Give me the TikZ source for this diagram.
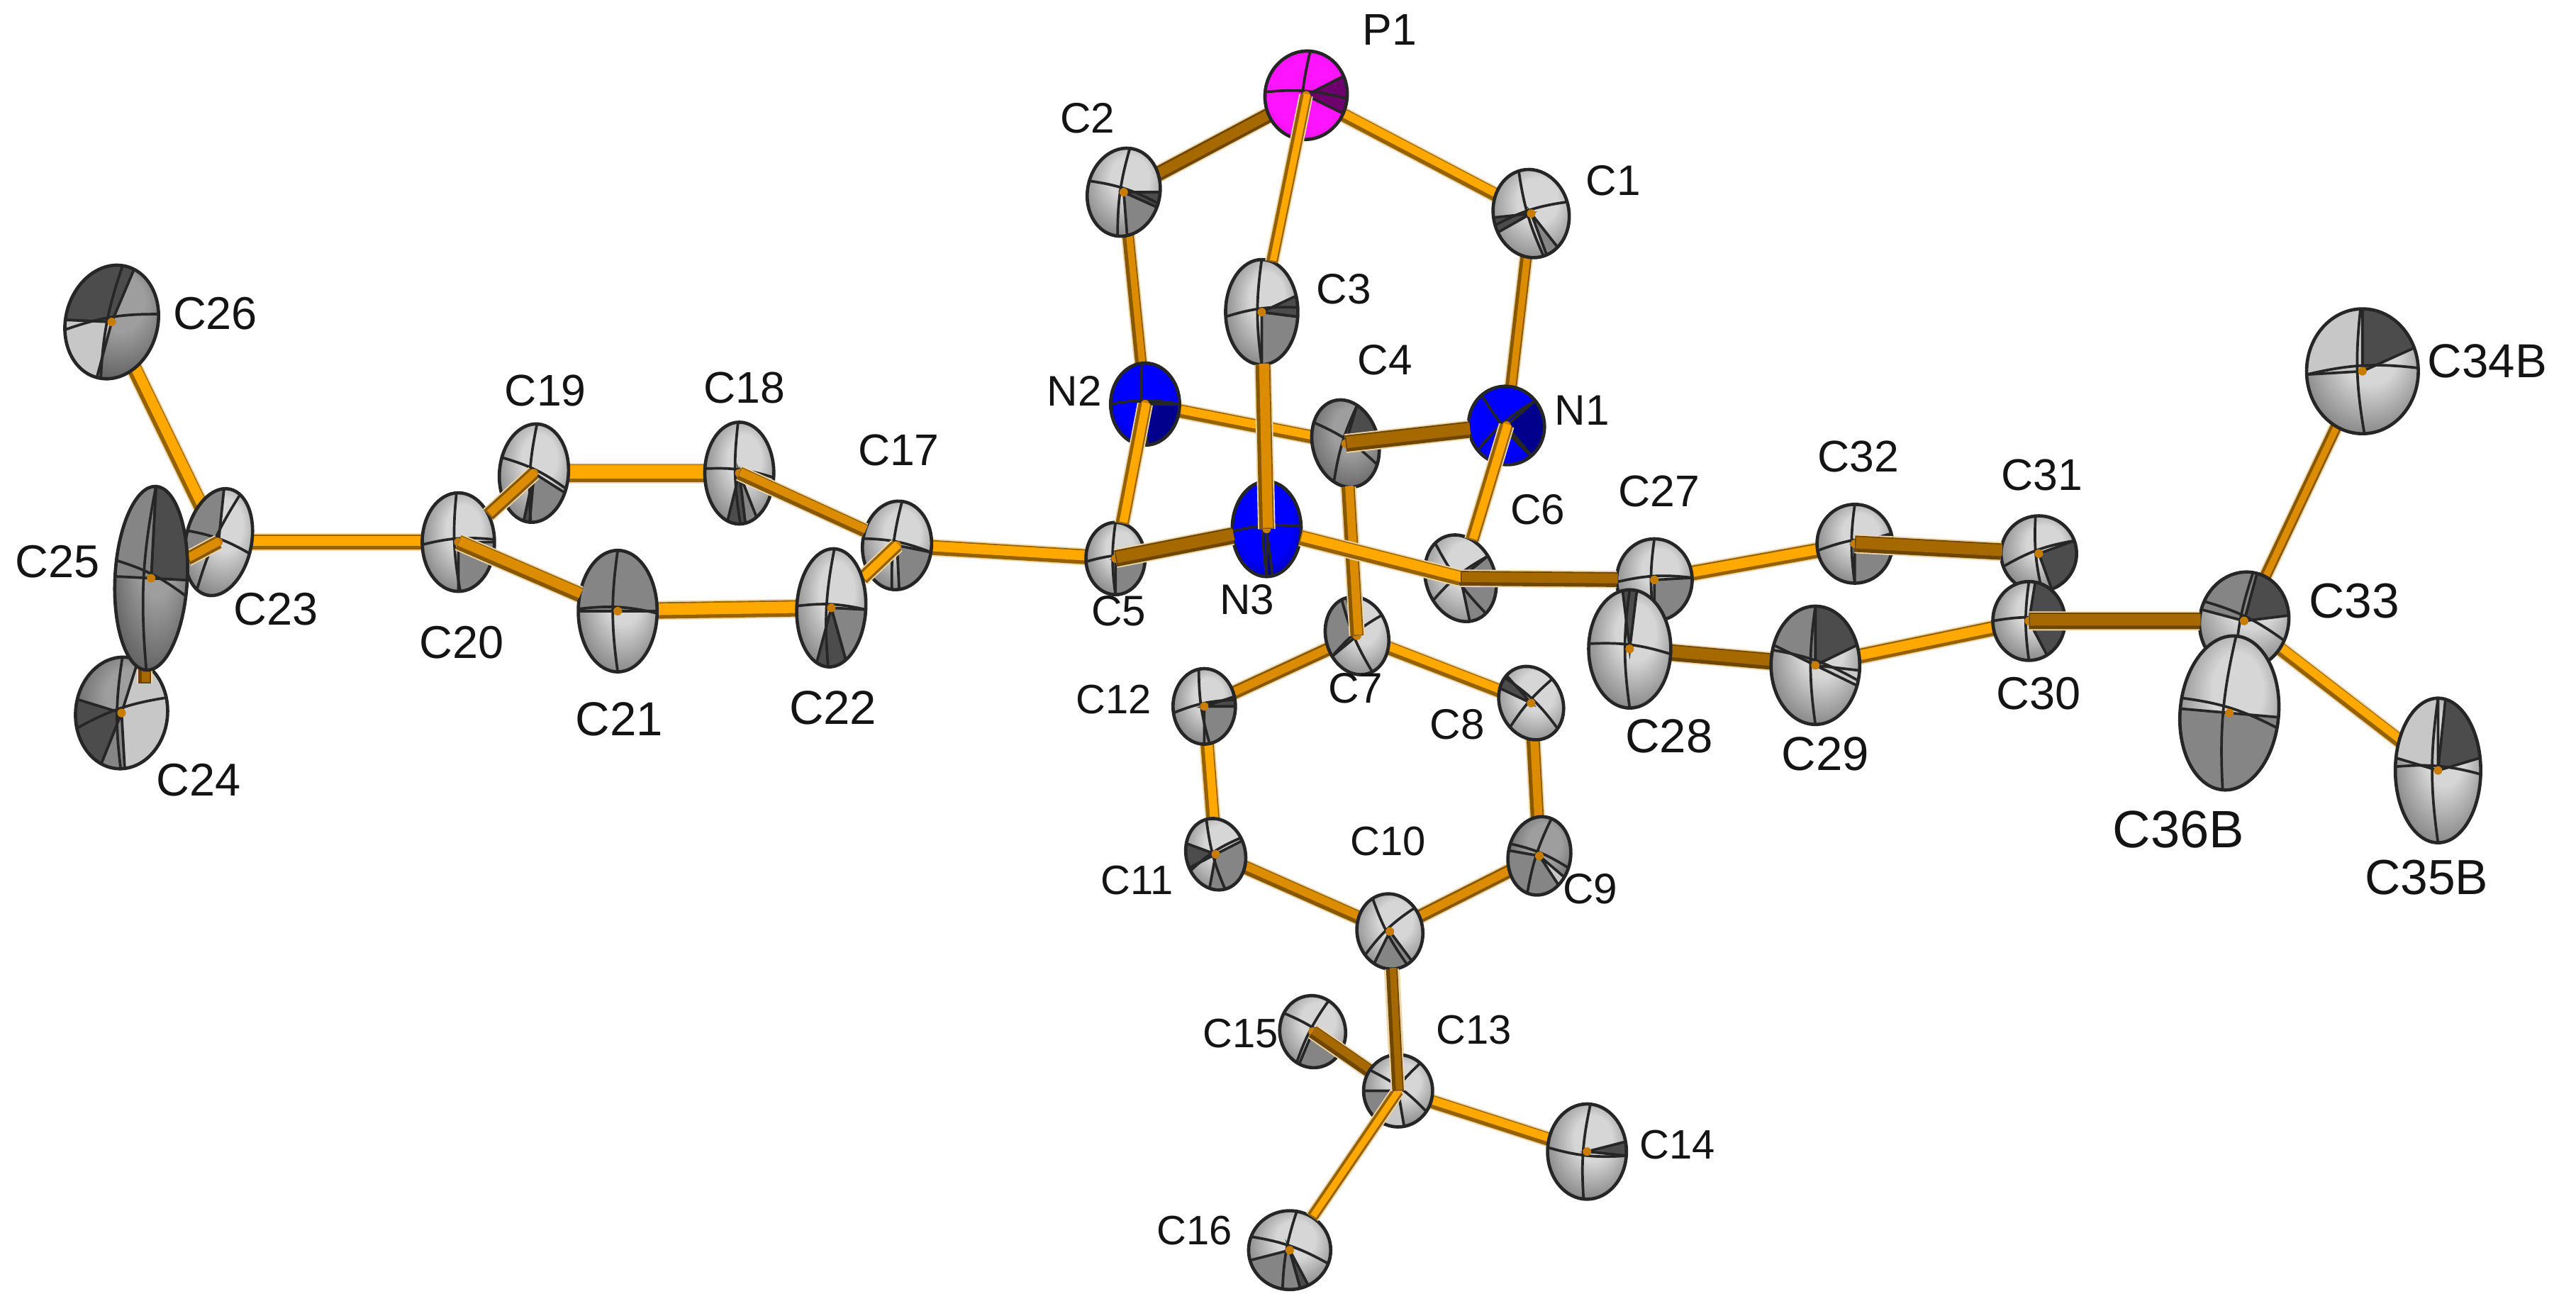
\documentclass[tikz,border=0pt]{standalone}
\usepackage{fontspec}
\setmainfont{Liberation Sans}
\usetikzlibrary{shapes.geometric,calc}
\pgfdeclarelayer{back}\pgfdeclarelayer{rear}\pgfdeclarelayer{mid}\pgfdeclarelayer{front}
\pgfsetlayers{back,rear,mid,main,front}
\definecolor{hig}{gray}{0.84}\definecolor{log}{gray}{0.38}
\definecolor{hid}{gray}{0.62}\definecolor{lod}{gray}{0.28}
\definecolor{hib}{RGB}{0,0,255}\definecolor{lob}{RGB}{0,0,110}
\definecolor{him}{RGB}{255,20,255}\definecolor{lom}{RGB}{150,0,150}
\definecolor{wl}{gray}{0.78}\definecolor{wg}{gray}{0.52}\definecolor{wd}{gray}{0.30}
\definecolor{wb}{RGB}{0,0,140}\definecolor{wm}{RGB}{110,0,110}
\definecolor{edge}{gray}{0.15}
\definecolor{bbl}{RGB}{150,98,0}\definecolor{btl}{RGB}{255,168,0}
\definecolor{bbm}{RGB}{135,88,0}\definecolor{btm}{RGB}{220,140,0}
\definecolor{bbd}{RGB}{110,70,0}\definecolor{btd}{RGB}{165,105,0}
\definecolor{halo}{RGB}{236,214,170}\definecolor{stub}{RGB}{200,125,0}
\pgfdeclareradialshading{atomg}{\pgfpoint{5bp}{9bp}}{color(0bp)=(hig);color(12bp)=(hig);color(38bp)=(log);color(50bp)=(log)}
\pgfdeclareradialshading{atomd}{\pgfpoint{5bp}{9bp}}{color(0bp)=(hid);color(12bp)=(hid);color(38bp)=(lod);color(50bp)=(lod)}
\pgfdeclareradialshading{atomb}{\pgfpoint{-3bp}{6bp}}{color(0bp)=(hib);color(20bp)=(hib);color(40bp)=(lob);color(50bp)=(lob)}
\pgfdeclareradialshading{atomm}{\pgfpoint{3bp}{6bp}}{color(0bp)=(him);color(24bp)=(him);color(42bp)=(lom);color(50bp)=(lom)}
\tikzset{
  atomnode/.style={ellipse,inner sep=0pt,outer sep=0pt,shade},
  aline/.style={draw=edge,line width=1.6pt},
  lab/.style={text=black!92,inner sep=0pt}
}
\def\getgeom#1,#2,#3,#4,#5\relax{\def\ax{#1}\def\ay{#2}\def\arx{#3}\def\ary{#4}\def\arot{#5}}
\def\getax#1,#2\relax{\def\eqa{#1}\def\mea{#2}}
% \atom{name}{x,y,rx,ry,rot}{family}{equator,meridian}{wedges}
\newcommand\atom[5]{%
  \getgeom#2\relax\getax#4\relax
  \node[atomnode,shading=atom#3,minimum width=2*\arx pt,minimum height=2*\ary pt,rotate=\arot] (#1) at (\ax,-\ay) {};
  \begin{scope}[shift={(\ax,-\ay)},rotate=\arot]
    \begin{scope}
      \clip (0,0) ellipse ({\arx} and {\ary});
      \foreach \wa/\wb/\wc in {#5} {
        \filldraw[fill=\wc,aline] (0,0) -- ({\arx*cos(\wa)},{\ary*sin(\wa)}) arc[start angle=\wa,end angle=\wb,x radius=\arx,y radius=\ary] -- cycle;
      }
      \draw[aline] ({\arx*cos(\eqa)},{\ary*sin(\eqa)}) to[bend right=10] ({\arx*cos(\eqa+180)},{\ary*sin(\eqa+180)});
      \draw[aline] ({\arx*cos(\mea)},{\ary*sin(\mea)}) to[bend right=8] ({\arx*cos(\mea+180)},{\ary*sin(\mea+180)});
    \end{scope}
    \draw[edge,line width=2pt] (0,0) ellipse ({\arx} and {\ary});
    \fill[stub] (0,0) circle (2.6);
  \end{scope}
}
% \bnd{kind}{width}{from}{to}
\newcommand\bnd[4]{%
  \path (#3) -- (#4) coordinate[pos=0] (bs) coordinate[pos=1] (be);
  \draw[line width=#2*1pt+1.6pt,color=halo] (bs) -- (be);
  \draw[line width=#2*1pt,color=bb#1] (bs) -- (be);
  \draw[line width=#2*1pt-3pt,color=bt#1] ([shift={(.7,.7)}]bs) -- ([shift={(.7,.7)}]be);
}
\newcommand\lab[4]{\node[lab,font=\fontsize{#4}{#4}\selectfont] (l#1) at (#2,-#3) {#1};}
\begin{document}
\begin{tikzpicture}[x=1pt,y=1pt]
\useasboundingbox (0,0) rectangle (1568,-794.6);
% atoms that sit behind the others
\begin{pgfonlayer}{rear}
\atom{C24}{74,434,28,34,-5}{d}{20,95}{170/250/wd,250/290/wg,-80/75/wl}
\atom{C23}{133,330,20,33,-12}{g}{-5,70}{100/200/wg}
\atom{C15}{799,628,20,22,10}{g}{-40,50}{-125/-50/wg}
\atom{C17}{546,332,21,27,-5}{g}{-5,88}{-80/-5/wg}
\atom{C27}{1007,353,23,25,0}{g}{3,90}{-90/3/wg}
\atom{C31}{1241,337,23,23,0}{g}{20,95}{-70/20/wd}
\atom{C33}{1366,378,27,30,-15}{g}{-10,95}{20/90/wd,90/180/wg}
\end{pgfonlayer}
% atoms in front
\atom{P1}{795,58,25,27,-10}{m}{5,95}{-15/35/wm}
\atom{C1}{932,130,23,27,12}{g}{5,95}{-80/-60/wg,175/195/wd}
\atom{C2}{684,117,22,27,-12}{g}{-5,95}{-70/-10/wg,-10/10/wd}
\atom{C3}{768,190,22,32,0}{g}{5,90}{-90/-5/wg,-5/18/wd}
\atom{N2}{697,246,21,25,0}{b}{0,95}{-90/0/wb}
\atom{N1}{917,259,23,24,20}{b}{20,110}{-70/20/wb}
\atom{N3}{771,322,21,29,0}{b}{3,90}{-90/-80/wb}
\atom{C4}{819,270,20,27,15}{d}{-40,50}{0/50/wd}
\atom{C5}{679,340,18,22,0}{g}{5,90}{-90/-5/wg,0/20/wd}
\atom{C6}{889,352,21,27,20}{g}{15,110}{-100/15/wg}
\atom{C7}{826,387,19,24,15}{g}{20,100}{90/200/wg}
\atom{C8}{932,428,19,23,25}{g}{-65,20}{110/135/wd}
\atom{C9}{937,521,19,24,-10}{d}{-10,80}{180/330/wg,-40/-25/wl}
\atom{C10}{846,567,20,23,10}{g}{30,110}{-130/-60/wg}
\atom{C11}{740,520,18,22,15}{g}{15,90}{-120/10/wg,150/190/wd}
\atom{C12}{733,430,19,23,0}{g}{10,100}{-90/0/wg,0/15/wd}
\atom{C13}{851,664,21,22,0}{g}{-35,50}{180/230/wg,230/280/wl}
\atom{C14}{966,701,24,29,0}{g}{175,85}{-5/12/wd}
\atom{C16}{785,761,25,24,0}{g}{-20,80}{195/285/wg,285/297/wd}
\atom{C18}{450,288,21,31,0}{g}{-5,92}{-80/-60/wg,-110/-80/wd}
\atom{C19}{325,288,21,30,-5}{g}{-15,92}{-90/-20/wg,-100/-90/wd}
\atom{C20}{279,330,22,30,0}{g}{3,93}{-90/0/wg}
\atom{C21}{376,372,24,37,0}{g}{-2,90}{0/180/wg}
\atom{C22}{506,370,21,36,-3}{g}{0,90}{-110/-60/wd,-60/0/wg}
\atom{C25}{92,352,22,56,-3}{d}{-10,90}{0/90/wd,90/180/wg}
\atom{C26}{68,196,28,35,-15}{d}{20,95}{80/190/wd,190/270/wl}
\atom{C28}{992,395,25,36,0}{g}{-5,90}{80/100/wd}
\atom{C29}{1105,405,27,36,0}{g}{-15,90}{20/90/wd,90/160/wg,-20/-5/wl}
\atom{C30}{1235,378,22,24,0}{g}{0,90}{-60/80/wd}
\atom{C32}{1129,331,23,24,0}{g}{10,90}{-90/-10/wg,-10/15/wd}
\atom{C34B}{1438,226,34,38,0}{g}{3,92}{22/90/wd,90/183/wl}
\atom{C35B}{1484,469,26,44,0}{g}{-3,90}{10/80/wd,90/170/wl}
\atom{C36B}{1357,434,30,47,-5}{g}{-8,90}{180/360/wg}
% bonds behind every atom
\begin{pgfonlayer}{back}
\bnd{m}{8}{C4.center}{C7.center}
\bnd{l}{8}{P1.center}{C1.center}
\bnd{d}{9}{P1.center}{C2.center}
\bnd{m}{7}{C1.center}{N1.center}
\bnd{m}{7}{C2.center}{N2.center}
\bnd{l}{8}{N2.center}{C4.center}
\bnd{d}{9}{C4.center}{N1.center}
\bnd{l}{8}{C7.center}{C8.center}
\bnd{m}{8}{C7.center}{C12.center}
\bnd{l}{8}{C12.center}{C11.center}
\bnd{m}{8}{C8.center}{C9.center}
\bnd{m}{8}{C9.center}{C10.center}
\bnd{m}{8}{C10.center}{C11.center}
\bnd{d}{8}{C10.center}{C13.center}
\bnd{l}{8}{C13.center}{C14.center}
\bnd{l}{9}{C5.center}{C17.center}
\bnd{l}{11}{C18.center}{C19.center}
\bnd{l}{10}{C21.center}{C22.center}
\bnd{l}{9}{C20.center}{C23.center}
\bnd{l}{9}{C23.center}{C26.center}
\bnd{l}{9}{C27.center}{C32.center}
\bnd{d}{10}{C32.center}{C31.center}
\bnd{d}{10}{C28.center}{C29.center}
\bnd{l}{9}{C29.center}{C30.center}
\bnd{m}{7}{C33.center}{C34B.center}
\bnd{l}{8}{C33.center}{C35B.center}
\end{pgfonlayer}
% bonds lying on the rear atoms
\begin{pgfonlayer}{mid}
\bnd{d}{8}{C15.center}{C13}
\bnd{l}{8}{C17.center}{C22}
\bnd{m}{8}{C23.center}{C25}
\coordinate (s24a) at (88,-404);
\coordinate (s24b) at (88,-416);
\bnd{d}{8}{s24a}{s24b}
\end{pgfonlayer}
% bonds in front
\begin{pgfonlayer}{front}
\bnd{l}{7}{P1.center}{C3}
\bnd{m}{9}{N3.center}{C3}
\bnd{l}{8}{N2.center}{C5}
\bnd{d}{10}{C4.center}{N1}
\bnd{d}{10}{C5.center}{N3}
\bnd{m}{8}{C7.center}{C4}
\bnd{l}{9}{C6.center}{N3}
\bnd{l}{8}{N1.center}{C6}
\bnd{d}{9}{C6.center}{C27}
\bnd{m}{8}{C19.center}{C20}
\bnd{m}{8}{C18.center}{C17}
\bnd{m}{9}{C20.center}{C21}
\bnd{d}{10}{C32.center}{C31}
\bnd{d}{10}{C30.center}{C33}
\bnd{l}{7}{C13.center}{C16}
\bnd{d}{7}{C13.center}{C10}
\end{pgfonlayer}
% labels
\lab{P1}{846}{18}{27}
\lab{C1}{982}{110}{26}
\lab{C2}{662}{72}{26}
\lab{C3}{818}{176}{26}
\lab{C4}{843}{219}{26}
\lab{N1}{963}{250}{26}
\lab{N2}{654}{238}{26}
\lab{N3}{759}{365}{26}
\lab{C5}{681}{372}{26}
\lab{C6}{936}{310}{26}
\lab{C7}{825}{419}{26}
\lab{C8}{887}{441}{26}
\lab{C9}{968}{541}{26}
\lab{C10}{845}{512}{25}
\lab{C11}{692}{536}{25}
\lab{C12}{678}{426}{25}
\lab{C13}{897}{627}{25}
\lab{C14}{1021}{697}{25}
\lab{C15}{755}{629}{25}
\lab{C16}{727}{749}{25}
\lab{C17}{547}{274}{27}
\lab{C18}{453}{236}{27}
\lab{C19}{332}{238}{27}
\lab{C20}{281}{391}{28}
\lab{C21}{377}{438}{29}
\lab{C22}{507}{431}{29}
\lab{C23}{168}{371}{28}
\lab{C24}{121}{475}{28}
\lab{C25}{35}{342}{28}
\lab{C26}{131}{191}{28}
\lab{C27}{1010}{299}{27}
\lab{C28}{1016}{448}{29}
\lab{C29}{1111}{459}{29}
\lab{C30}{1241}{422}{28}
\lab{C31}{1243}{289}{27}
\lab{C32}{1131}{278}{27}
\lab{C33}{1433}{366}{30}
\lab{C34B}{1514}{220}{29}
\lab{C35B}{1477}{534}{30}
\lab{C36B}{1326}{505}{32}
\end{tikzpicture}
\end{document}
